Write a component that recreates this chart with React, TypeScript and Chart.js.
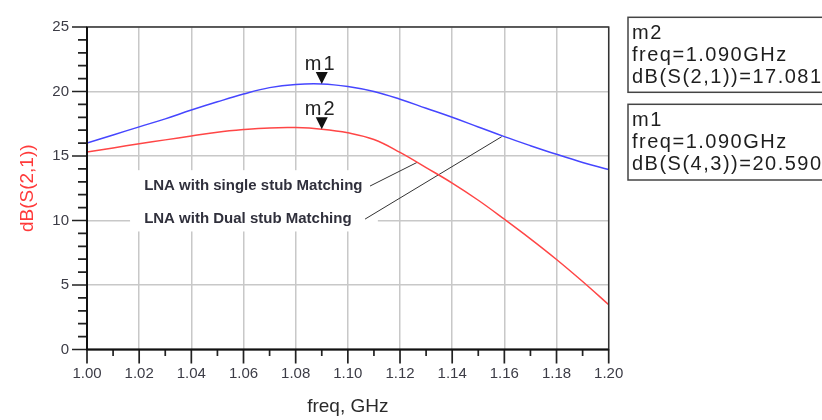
import React, { useEffect, useRef } from 'react';
import { Chart, registerables } from 'chart.js';

Chart.register(...registerables);

const FONT = '"Liberation Sans", Arial, Helvetica, sans-serif';

// Frequency axis (GHz)
const freqGHz = [
  1.0, 1.01, 1.02, 1.03, 1.04, 1.05, 1.06, 1.07, 1.08, 1.09, 1.1,
  1.11, 1.12, 1.13, 1.14, 1.15, 1.16, 1.17, 1.18, 1.19, 1.2,
];
// dB(S(4,3)) - blue trace (m1)
const s43dB = [
  16.0, 16.63, 17.26, 17.88, 18.56, 19.2, 19.8, 20.3, 20.55, 20.59, 20.39,
  20.0, 19.4, 18.7, 18.0, 17.25, 16.5, 15.8, 15.13, 14.5, 13.95,
];
// dB(S(2,1)) - red trace (m2)
const s21dB = [
  15.3, 15.62, 15.95, 16.25, 16.55, 16.85, 17.05, 17.18, 17.2, 17.08, 16.8,
  16.28, 15.28, 14.1, 12.9, 11.57, 10.1, 8.58, 6.98, 5.27, 3.47,
];

const markerFreq = 1.09;
const m1Value = 20.59;
const m2Value = 17.081;
const markerBoxes = [
  ['m2', 'freq=1.090GHz', 'dB(S(2,1))=17.081'],
  ['m1', 'freq=1.090GHz', 'dB(S(4,3))=20.590'],
];
const labelSingle = 'LNA with single stub Matching';
const labelDual = 'LNA with Dual stub Matching';
const xTitle = 'freq, GHz';
const yTitle = 'dB(S(2,1))';

const annotPlugin = {
  id: 'annot',
  beforeDatasetsDraw(chart: any) {
    const { ctx, scales } = chart;
    const x = scales.x;
    const y = scales.y;
    ctx.save();
    // white label background
    const l = x.getPixelForValue(1.0165);
    const r = x.getPixelForValue(1.1115);
    const t = y.getPixelForValue(13.9);
    const b = y.getPixelForValue(9.15);
    ctx.fillStyle = '#ffffff';
    ctx.fillRect(l, t, r - l, b - t);
    ctx.font = 'bold 15px ' + FONT;
    ctx.fillStyle = '#30303c';
    ctx.textAlign = 'left';
    ctx.textBaseline = 'alphabetic';
    ctx.fillText(labelSingle, x.getPixelForValue(1.0219), y.getPixelForValue(12.4));
    ctx.fillText(labelDual, x.getPixelForValue(1.0219), y.getPixelForValue(9.8));
    // leader lines
    ctx.strokeStyle = '#333333';
    ctx.lineWidth = 1;
    ctx.beginPath();
    ctx.moveTo(x.getPixelForValue(1.1085), y.getPixelForValue(12.67));
    ctx.lineTo(x.getPixelForValue(1.1265), y.getPixelForValue(14.5));
    ctx.moveTo(x.getPixelForValue(1.1066), y.getPixelForValue(10.11));
    ctx.lineTo(x.getPixelForValue(1.159), y.getPixelForValue(16.5));
    ctx.stroke();
    ctx.restore();
  },
  afterDatasetsDraw(chart: any) {
    const { ctx, scales, chartArea } = chart;
    const x = scales.x;
    const y = scales.y;
    ctx.save();
    // markers
    const drawMarker = (name: string, val: number, textGap: number) => {
      const px = x.getPixelForValue(markerFreq);
      const py = y.getPixelForValue(val);
      ctx.fillStyle = '#111111';
      ctx.beginPath();
      ctx.moveTo(px, py);
      ctx.lineTo(px - 6, py - 12);
      ctx.lineTo(px + 6, py - 12);
      ctx.closePath();
      ctx.fill();
      ctx.font = '20px ' + FONT;
      (ctx as any).letterSpacing = '2px';
      ctx.textAlign = 'center';
      ctx.textBaseline = 'alphabetic';
      ctx.fillStyle = '#222222';
      ctx.fillText(name, px - 1, py - textGap);
      (ctx as any).letterSpacing = '0px';
    };
    drawMarker('m1', m1Value, 13.5);
    drawMarker('m2', m2Value, 14);
    // frame
    ctx.strokeStyle = '#333333';
    ctx.lineWidth = 1.5;
    ctx.strokeRect(chartArea.left, chartArea.top, chartArea.right - chartArea.left, chartArea.bottom - chartArea.top);
    ctx.restore();
  },
  afterDraw(chart: any) {
    const { ctx, scales, chartArea } = chart;
    const x = scales.x;
    const y = scales.y;
    ctx.save();
    ctx.strokeStyle = '#222222';
    ctx.lineWidth = 1.7;
    ctx.beginPath();
    y.ticks.forEach((tk: any) => {
      const py = y.getPixelForValue(tk.value);
      const major = Math.round(tk.value) % 5 === 0;
      ctx.moveTo(chartArea.left, py);
      ctx.lineTo(chartArea.left - (major ? 15 : 9), py);
    });
    x.ticks.forEach((tk: any, i: number) => {
      const px = x.getPixelForValue(tk.value);
      const major = i % 2 === 0;
      ctx.moveTo(px, chartArea.bottom);
      ctx.lineTo(px, chartArea.bottom + (major ? 14 : 6.5));
    });
    ctx.stroke();
    // axes lines
    ctx.strokeStyle = '#111111';
    ctx.lineWidth = 2;
    ctx.beginPath();
    ctx.moveTo(chartArea.left, chartArea.top);
    ctx.lineTo(chartArea.left, chartArea.bottom);
    ctx.lineTo(chartArea.right, chartArea.bottom);
    ctx.stroke();
    // marker info boxes
    ctx.strokeStyle = '#444444';
    ctx.lineWidth = 1.5;
    const boxTops = [17.3, 104.3];
    const boxH = [75, 75.7];
    ctx.font = '20px ' + FONT;
    (ctx as any).letterSpacing = '1.5px';
    ctx.fillStyle = '#1e1e1e';
    ctx.textAlign = 'left';
    ctx.textBaseline = 'alphabetic';
    markerBoxes.forEach((lines, bi) => {
      const top = boxTops[bi];
      ctx.strokeRect(628, top, 210, boxH[bi]);
      lines.forEach((s, li) => {
        ctx.fillText(s, 632, top + 22 + li * 21.6);
      });
    });
    ctx.restore();
  },
};

export default function App() {
  const canvasRef = useRef<HTMLCanvasElement | null>(null);

  useEffect(() => {
    const canvas = canvasRef.current;
    if (!canvas) return;
    const chart = new Chart(canvas, {
      type: 'line',
      data: {
        datasets: [
          {
            label: 'dB(S(4,3))',
            data: freqGHz.map((f, i) => ({ x: f, y: s43dB[i] })),
            borderColor: '#4646ff',
            borderWidth: 1.5,
            pointRadius: 0,
            tension: 0.4,
            fill: false,
          },
          {
            label: 'dB(S(2,1))',
            data: freqGHz.map((f, i) => ({ x: f, y: s21dB[i] })),
            borderColor: '#ff4646',
            borderWidth: 1.5,
            pointRadius: 0,
            tension: 0.4,
            fill: false,
          },
        ],
      },
      options: {
        animation: false,
        responsive: false,
        maintainAspectRatio: false,
        layout: { padding: { left: 0, top: 16.5, right: 213.3, bottom: 0 } },
        plugins: {
          legend: { display: false },
          tooltip: { enabled: false },
        },
        scales: {
          x: {
            type: 'linear',
            min: 1.0,
            max: 1.2,
            afterFit: (s: any) => {
              s.height = 70.5;
            },
            ticks: {
              stepSize: 0.01,
              autoSkip: false,
              maxRotation: 0,
              padding: 15,
              color: '#3c3c46',
              font: { family: FONT, size: 15 },
              callback: (v: any, i: number) => (i % 2 === 0 ? Number(v).toFixed(2) : ''),
            },
            grid: {
              drawTicks: false,
              lineWidth: 1.5,
              color: (c: any) => (c.index % 2 === 0 ? '#c8c8c8' : 'rgba(0,0,0,0)'),
            },
            border: { display: false },
            title: {
              display: true,
              text: xTitle,
              color: '#2a2a2a',
              font: { family: FONT, size: 19 },
              padding: { top: 0, bottom: 2 },
            },
          },
          y: {
            type: 'linear',
            min: 0,
            max: 25,
            afterFit: (s: any) => {
              s.width = 87;
            },
            ticks: {
              stepSize: 1,
              autoSkip: false,
              padding: 18,
              color: '#3c3c46',
              font: { family: FONT, size: 15 },
              callback: (v: any) => (Math.round(Number(v)) % 5 === 0 ? String(Math.round(Number(v))) : ''),
            },
            grid: {
              drawTicks: false,
              lineWidth: 1.5,
              color: (c: any) => (c.tick && Math.round(c.tick.value) % 5 === 0 ? '#c8c8c8' : 'rgba(0,0,0,0)'),
            },
            border: { display: false },
            title: {
              display: true,
              text: yTitle,
              color: '#ff3a3a',
              font: { family: FONT, size: 19 },
              padding: { top: 16, bottom: 0 },
            },
          },
        },
      },
      plugins: [annotPlugin],
    });
    return () => chart.destroy();
  }, []);

  return (
    <div style={{ position: 'absolute', left: 0, top: 0, width: 822, height: 420, background: '#ffffff' }}>
      <canvas ref={canvasRef} width={822} height={420} />
    </div>
  );
}
